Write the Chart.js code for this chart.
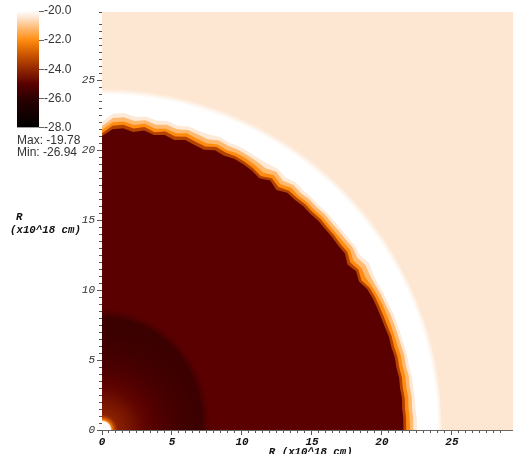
<!DOCTYPE html>
<html><head><meta charset="utf-8">
<style>
html,body{margin:0;padding:0;background:#fff;width:513px;height:454px;overflow:hidden}
canvas{position:absolute;left:0;top:0;filter:blur(0.4px)}
.t{position:absolute;white-space:pre;color:#111;line-height:12px}
.s{font:12px "Liberation Sans",sans-serif;color:#333}
.m{font:italic bold 10.75px "Liberation Mono",monospace;color:#111}
</style>
<script src="https://cdn.jsdelivr.net/npm/chart.js@4"></script>
</head><body>
<canvas id="main" width="513" height="454"></canvas>
<canvas id="bar" width="80" height="140"></canvas>
<div class="t s" style="left:17px;top:133px">Max: -19.78</div>
<div class="t s" style="left:17px;top:145px">Min: -26.94</div>
<div class="t m" style="left:16px;top:211px">R</div>
<div class="t m" style="left:10px;top:224px">(x10^18 cm)</div>
<script>
// colour scale: log level -> rgb
const levelStops = [-28,-26,-25,-24,-23,-22,-21,-20.45,-20];
const levelRgb = [[0,0,0],[43,0,0],[90,0,0],[146,40,0],[204,85,0],[255,140,16],[255,196,136],[253,230,210],[255,255,255]];

// boundaries of the shocked shell, radius per polar angle (from the R axis, degrees)
const edgeAngle = [0,2,4,6,8,10,12,14,16,18,20,22,24,26,28,30,32,34,36,38,40,42,44,46,48,50,52,54,56,58,60,62,64,66,68,70,72,74,76,78,80,82,84,86,88,90];
const rBody = [21.0,21.5,21.6,21.4,21.6,21.4,21.55,21.35,21.55,21.4,21.3,21.55,21.45,21.55,21.5,21.4,21.2,21.5,21.2,21.5,21.45,21.5,21.45,21.5,21.45,21.45,21.4,21.45,21.15,21.4,21.2,21.45,21.5,21.5,21.5,21.5,21.55,21.5,21.55,21.5,21.55,21.5,21.55,21.5,21.55,21.55];
const rDeep = [21.2,21.75,21.85,21.65,21.85,21.6,21.8,21.6,21.8,21.65,21.55,21.8,21.7,21.75,21.7,21.6,21.4,21.7,21.45,21.7,21.65,21.7,21.65,21.7,21.65,21.65,21.6,21.65,21.4,21.6,21.4,21.65,21.7,21.7,21.7,21.7,21.75,21.7,21.75,21.7,21.75,21.7,21.75,21.7,21.75,21.75];
const rOrange = [21.45,22.0,22.1,21.9,22.1,21.85,22.0,21.85,22.05,21.9,21.8,22.0,21.9,22.0,21.95,21.85,21.7,21.95,21.7,21.95,21.85,21.9,21.85,21.9,21.85,21.85,21.85,21.9,21.65,21.85,21.75,21.85,21.9,21.95,21.95,21.95,21.95,21.95,22.0,21.95,22.0,21.95,22.0,21.95,22.0,22.0];
const rLight = [21.7,22.3,22.4,22.2,22.35,22.15,22.3,22.15,22.3,22.2,22.1,22.3,22.2,22.25,22.2,22.15,22.05,22.25,22.0,22.2,22.1,22.15,22.1,22.15,22.1,22.1,22.1,22.15,22.0,22.2,22.1,22.1,22.15,22.15,22.2,22.2,22.2,22.2,22.25,22.2,22.25,22.2,22.25,22.2,22.25,22.25];
const rPale = [22.0,22.6,22.7,22.5,22.6,22.45,22.55,22.4,22.55,22.45,22.45,22.55,22.45,22.5,22.45,22.4,22.4,22.5,22.3,22.45,22.35,22.35,22.3,22.35,22.3,22.3,22.3,22.35,22.25,22.5,22.35,22.3,22.35,22.35,22.4,22.4,22.4,22.4,22.45,22.4,22.45,22.45,22.45,22.45,22.5,22.5];

// smooth boundaries, coarser in angle
const coarseAngle = [0,10,20,30,40,50,60,70,80,90];
const rShell = [24.45,24.45,24.5,24.5,24.45,24.4,24.3,24.3,24.3,24.3];
const rHaloA = [8.6,8.55,8.45,8.35,8.25,8.1,7.95,7.8,7.7,7.65];
const rHaloB = [8.4,8.35,8.25,8.15,8.05,7.9,7.75,7.6,7.5,7.45];
const rCore = [8.2,8.15,8.05,7.95,7.85,7.7,7.55,7.4,7.3,7.25];

// radial level profiles
const shellProfileR = [22.3,23.95,24.1,24.4];
const shellProfileV = [-20,-20,-20.15,-20.45];
const coreProfileR = [0,0.6,0.72,0.9,1.1,2,3,4,5,6,7.2];
const coreProfileV = [-20,-20,-22.3,-23.4,-24.15,-24.5,-24.9,-25.2,-25.4,-25.55,-25.65];

// flat levels
const ambientLevel = -20.45, paleLevel = -20.4, lightLevel = -21.2, orangeLevel = -22, deepLevel = -23.4, bodyLevel = -25, haloALevel = -25.15, haloBLevel = -25.35;
const ambientCorners = [[0,29.9],[29.4,29.9]];

// axes
const xRange = [0,29.36], yRange = [0,29.86], majorStep = 5, minorStep = 0.5;
const xTitle = ' R (x10^18 cm)';
const barRange = [-28,-20], barStep = 2;

function levelColor(v){
  let i = 0;
  while(i < levelStops.length-2 && v > levelStops[i+1]) i++;
  const t = Math.max(0,Math.min(1,(v-levelStops[i])/(levelStops[i+1]-levelStops[i])));
  const c = levelRgb[i].map((a,k)=>Math.round(a+(levelRgb[i+1][k]-a)*t));
  return `rgb(${c[0]},${c[1]},${c[2]})`;
}
const polar = (radii,angles)=>radii.map((r,i)=>{const a=angles[i]*Math.PI/180;return {x:r*Math.sin(a),y:r*Math.cos(a)};});
function radialFill(radii,levels){
  return c=>{
    const ch=c.chart,s=ch.scales;
    if(!s||!s.x||!s.y) return levelColor(levels[0]);
    const x0=s.x.getPixelForValue(0),y0=s.y.getPixelForValue(0),u=s.x.getPixelForValue(1)-x0;
    if(!isFinite(x0)||!isFinite(y0)||!isFinite(u)||u<=0) return levelColor(levels[0]);
    const rm=radii[radii.length-1];
    const g=ch.ctx.createRadialGradient(x0,y0,0,x0,y0,rm*u);
    radii.forEach((r,i)=>g.addColorStop(r/rm,levelColor(levels[i])));
    return g;
  };
}
const layer=(label,data,bg,tension)=>({label,data,backgroundColor:bg,showLine:true,fill:'origin',borderWidth:0,borderColor:'transparent',pointRadius:0,pointHoverRadius:0,tension:tension||0});

new Chart(document.getElementById('main'),{
  type:'scatter',
  data:{datasets:[
    // first dataset is painted last
    layer('core',polar(rCore,coarseAngle),radialFill(coreProfileR,coreProfileV),0.4),
    layer('haloB',polar(rHaloB,coarseAngle),levelColor(haloBLevel),0.4),
    layer('haloA',polar(rHaloA,coarseAngle),levelColor(haloALevel),0.4),
    layer('body',polar(rBody,edgeAngle),levelColor(bodyLevel)),
    layer('deep',polar(rDeep,edgeAngle),levelColor(deepLevel)),
    layer('orange',polar(rOrange,edgeAngle),levelColor(orangeLevel)),
    layer('light',polar(rLight,edgeAngle),levelColor(lightLevel)),
    layer('pale',polar(rPale,edgeAngle),levelColor(paleLevel)),
    layer('shell',polar(rShell,coarseAngle),radialFill(shellProfileR,shellProfileV),0.4),
    layer('ambient',ambientCorners.map(p=>({x:p[0],y:p[1]})),levelColor(ambientLevel))
  ]},
  options:{
    responsive:false,animation:false,devicePixelRatio:1,
    layout:{padding:{left:0,right:0,top:12,bottom:0}},
    plugins:{legend:{display:false},tooltip:{enabled:false}},
    events:[],
    scales:{
      x:{type:'linear',position:'bottom',min:xRange[0],max:xRange[1],
        afterFit:s=>{s.height=24;s.paddingLeft=0;s.paddingRight=0;},
        border:{color:'#666',width:1},
        grid:{drawOnChartArea:false,tickLength:5,tickColor:'#555'},
        ticks:{stepSize:majorStep,includeBounds:false,padding:1,maxRotation:0,color:'#111',font:{family:'Liberation Mono',style:'italic',weight:'bold',size:11}},
        title:{display:true,text:xTitle,color:'#111',padding:{top:0,bottom:-5},font:{family:'Liberation Mono',style:'italic',weight:'bold',size:10.75}}
      },
      y:{type:'linear',position:'left',min:yRange[0],max:yRange[1],
        afterFit:s=>{s.width=102;s.paddingTop=0;s.paddingBottom=0;},
        border:{color:'#666',width:1},
        grid:{drawOnChartArea:false,tickLength:5,tickColor:'#555'},
        ticks:{stepSize:majorStep,includeBounds:false,padding:2,color:'#333',font:{family:'Liberation Mono',style:'italic',size:11}}
      },
      xMinor:{type:'linear',axis:'x',position:{y:0},min:xRange[0],max:xRange[1],
        border:{display:false},grid:{drawOnChartArea:false,tickLength:3,tickColor:'#555'},
        ticks:{stepSize:minorStep,display:false,autoSkip:false}
      },
      yMinor:{type:'linear',axis:'y',position:{x:0},min:yRange[0],max:yRange[1],
        border:{display:false},grid:{drawOnChartArea:false,tickLength:3,tickColor:'#555'},
        ticks:{stepSize:minorStep,display:false,autoSkip:false}
      },
      xTop:{type:'linear',axis:'x',position:{y:yRange[1]},min:xRange[0],max:xRange[1],
        border:{color:'#777',width:1},grid:{display:false},ticks:{display:false}
      }
    }
  }
});

new Chart(document.getElementById('bar'),{
  type:'bar',
  data:{labels:[''],datasets:[{data:[barRange],barPercentage:1,categoryPercentage:1,borderWidth:0,
    backgroundColor:c=>{
      const y=c.chart.scales&&c.chart.scales.y;
      if(!y) return '#000';
      const p0=y.getPixelForValue(barRange[0]),p1=y.getPixelForValue(barRange[1]);
      if(!isFinite(p0)||!isFinite(p1)) return '#000';
      const g=c.chart.ctx.createLinearGradient(0,p0,0,p1);
      levelStops.forEach((v,i)=>g.addColorStop((v-barRange[0])/(barRange[1]-barRange[0]),levelColor(v)));
      return g;
    }}]},
  options:{
    responsive:false,animation:false,devicePixelRatio:1,events:[],
    layout:{padding:{left:17,right:0,top:11,bottom:12.5}},
    plugins:{legend:{display:false},tooltip:{enabled:false}},
    scales:{
      x:{display:false},
      y:{position:'right',min:barRange[0],max:barRange[1],
        afterFit:s=>{s.width=41;s.paddingTop=0;s.paddingBottom=0;},
        border:{display:false},
        grid:{drawOnChartArea:false,tickLength:5,tickColor:'#666'},
        ticks:{stepSize:barStep,padding:0,color:'#333',font:{family:'Liberation Sans',size:12},callback:v=>v.toFixed(1)}
      }
    }
  }
});
</script>
</body></html>
